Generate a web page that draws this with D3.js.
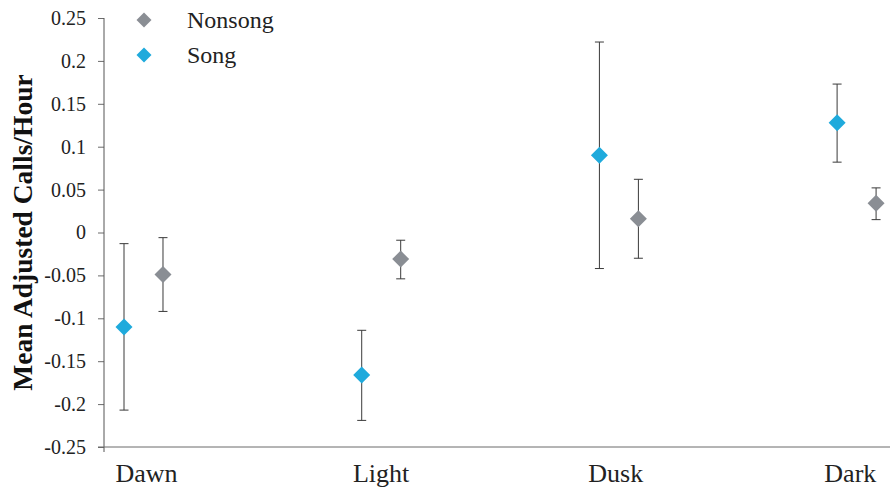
<!DOCTYPE html>
<html>
<head>
<meta charset="utf-8">
<script src="https://cdn.jsdelivr.net/npm/d3@7"></script>
<style>
  html, body { margin: 0; padding: 0; background: #fff; }
  svg { display: block; }
</style>
</head>
<body>
<svg id="chart" width="890" height="491"></svg>
<script>
// data
const periods = ["Dawn", "Light", "Dusk", "Dark"];
const songMean   = [-0.110, -0.166, 0.090, 0.128];
const songLow    = [-0.207, -0.219, -0.042, 0.082];
const songHigh   = [-0.013, -0.114, 0.222, 0.173];
const nonsongMean = [-0.049, -0.031, 0.016, 0.034];
const nonsongLow  = [-0.092, -0.054, -0.030, 0.015];
const nonsongHigh = [-0.006, -0.009, 0.062, 0.052];
const yTicks = [0.25, 0.2, 0.15, 0.1, 0.05, 0, -0.05, -0.1, -0.15, -0.2, -0.25];

const series = [
  { name: "Nonsong", color: "#8a8e94", offset: 0.082,  mean: nonsongMean, low: nonsongLow, high: nonsongHigh },
  { name: "Song",    color: "#1faadc", offset: -0.082, mean: songMean,    low: songLow,    high: songHigh }
];

const svg = d3.select("#chart");
const margin = { top: 18, right: 0, bottom: 44, left: 104 };
const W = 890, H = 491;
const serif = "'Liberation Serif', 'Times New Roman', serif";

// points and category labels sit on slightly different grids in the original
const x = d3.scaleLinear().domain([0, 1]).range([143.5, 381.2]);
const xLabel = d3.scaleLinear().domain([0, 1]).range([146, 380.6]);
const y = d3.scaleLinear().domain([-0.25, 0.25]).range([H - margin.bottom, margin.top]);

// diamond (square turned 45deg)
const diamond = r => `M0,${-r}L${r},0L0,${r}L${-r},0Z`;

// y axis
const yAxis = svg.append("g")
  .attr("transform", `translate(${margin.left},0)`)
  .call(d3.axisLeft(y).tickValues(yTicks).tickSize(6).tickPadding(12)
    .tickFormat(d => d === 0 ? "0" : String(d)));
yAxis.select(".domain").remove();
yAxis.selectAll("line").attr("stroke", "#6b6b6b");
yAxis.selectAll("text")
  .attr("font-family", serif).attr("font-size", 20).attr("fill", "#222");

svg.append("line")
  .attr("x1", margin.left).attr("x2", margin.left)
  .attr("y1", y(0.25)).attr("y2", y(-0.25) + 5)
  .attr("stroke", "#555");

// x axis
const xAxis = svg.append("g")
  .attr("transform", `translate(0,${y(-0.25)})`)
  .call(d3.axisBottom(xLabel).tickValues(d3.range(periods.length)).tickSize(0).tickPadding(17)
    .tickFormat(i => periods[i]));
xAxis.select(".domain").remove();
xAxis.selectAll("text")
  .attr("font-family", serif).attr("font-size", 26).attr("fill", "#222");

svg.append("line")
  .attr("x1", margin.left - 6).attr("x2", W)
  .attr("y1", y(-0.25)).attr("y2", y(-0.25))
  .attr("stroke", "#6b6b6b");

// y title
svg.append("text")
  .attr("transform", `translate(32,${y(0)}) rotate(-90)`)
  .attr("text-anchor", "middle")
  .attr("font-family", serif).attr("font-size", 27.5).attr("font-weight", "bold")
  .attr("fill", "#111")
  .text("Mean Adjusted Calls/Hour");

// error bars + points
for (const s of series) {
  const g = svg.append("g");
  const idx = d3.range(periods.length);
  const cx = i => x(i + s.offset);

  g.selectAll("line.bar").data(idx).enter().append("line")
    .attr("x1", cx).attr("x2", cx)
    .attr("y1", i => y(s.low[i])).attr("y2", i => y(s.high[i]))
    .attr("stroke", "#3a3a3a").attr("stroke-width", 1);

  for (const key of ["low", "high"]) {
    g.selectAll(`line.cap-${key}`).data(idx).enter().append("line")
      .attr("x1", i => cx(i) - 4.5).attr("x2", i => cx(i) + 4.5)
      .attr("y1", i => y(s[key][i])).attr("y2", i => y(s[key][i]))
      .attr("stroke", "#3a3a3a").attr("stroke-width", 1);
  }

  g.selectAll("path").data(idx).enter().append("path")
    .attr("d", diamond(8.5))
    .attr("transform", i => `translate(${cx(i)},${y(s.mean[i])})`)
    .attr("fill", s.color);
}

// legend
const legend = svg.append("g");
series.forEach((s, k) => {
  const ly = 20 + k * 35;
  legend.append("path")
    .attr("d", diamond(7.5))
    .attr("transform", `translate(144,${ly})`)
    .attr("fill", s.color);
  legend.append("text")
    .attr("x", 187).attr("y", ly + 8)
    .attr("font-family", serif).attr("font-size", 24).attr("fill", "#222")
    .text(s.name);
});
</script>
</body>
</html>
